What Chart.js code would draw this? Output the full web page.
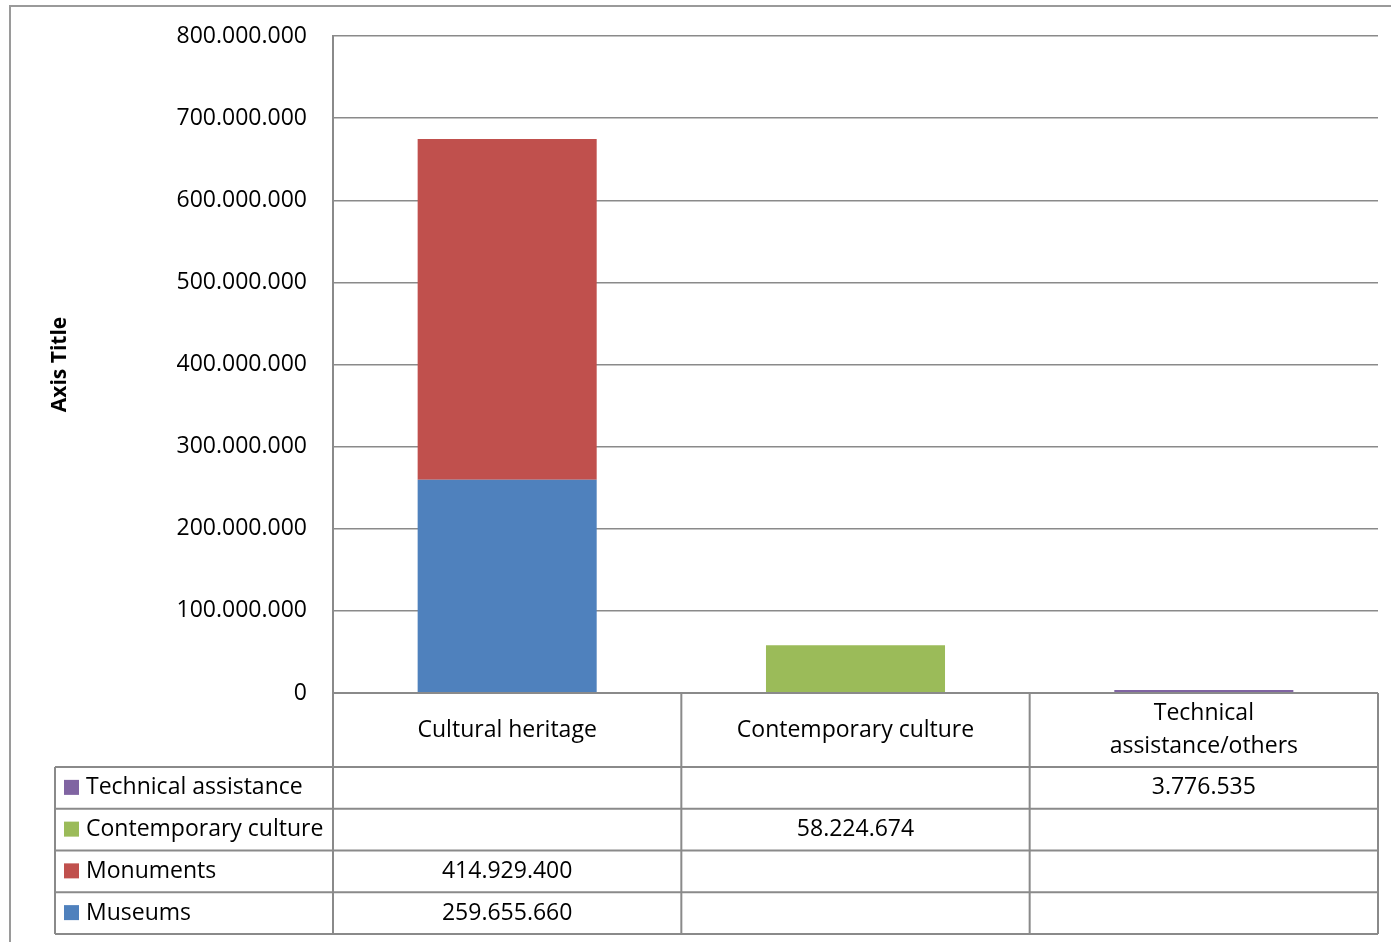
<!DOCTYPE html>
<html>
<head>
<meta charset="utf-8">
<title>Funding by area</title>
<script src="https://cdn.jsdelivr.net/npm/chart.js@4"></script>
<style>
    html, body { margin: 0; padding: 0; background: #ffffff; }
    #wrap { width: 1391px; height: 942px; }
</style>
</head>
<body>
<div id="wrap"><canvas id="myBarChart" width="1391" height="942"></canvas></div>
<script>
//data
const categories = ['Cultural heritage', 'Contemporary culture', 'Technical assistance/others']
const categoryLines = [['Cultural heritage'], ['Contemporary culture'], ['Technical', 'assistance/others']]

const museums = [259655660, null, null]
const monuments = [414929400, null, null]
const contemporary = [null, 58224674, null]
const technical = [null, null, 3776535]

const yTicks = [0, 100000000, 200000000, 300000000, 400000000, 500000000, 600000000, 700000000, 800000000]

//config color
const colorMuseums = '#4F81BD'
const colorMonuments = '#C0504D'
const colorContemporary = '#9BBB59'
const colorTechnical = '#8064A2'
const lineGray = '#8a8a8a'

const fontFamily = '"Open Sans", "Noto Sans", sans-serif'
const fontSize = 23

//1.234.567 style numbers
function formatNumber(value){
    return Math.round(value).toString().replace(/\B(?=(\d{3})+(?!\d))/g, '.')
}

//data table under the plot, like the one in the spreadsheet
const dataTablePlugin = {
    id: 'dataTable',
    afterDraw(chart){
        const ctx = chart.ctx
        const area = chart.chartArea
        const xScale = chart.scales.x
        const catW = (area.right - area.left) / categories.length
        const headerBottom = area.bottom + 74
        const rowH = 41.75
        const tableLeft = 55
        // rows are listed top to bottom in reverse dataset order
        const rows = chart.data.datasets.slice().reverse()
        const tableBottom = headerBottom + rows.length * rowH

        ctx.save()

        // outer frame of the chart object
        ctx.strokeStyle = '#9a9a9a'
        ctx.lineWidth = 2
        ctx.beginPath()
        ctx.moveTo(10, 942)
        ctx.lineTo(10, 6)
        ctx.lineTo(1391, 6)
        ctx.stroke()

        // table grid
        ctx.strokeStyle = lineGray
        ctx.lineWidth = 2
        ctx.beginPath()
        ctx.moveTo(area.left, area.bottom)
        ctx.lineTo(area.right, area.bottom)
        for (let r = 0; r <= rows.length; r++) {
            const y = headerBottom + r * rowH
            ctx.moveTo(tableLeft, y)
            ctx.lineTo(area.right, y)
        }
        ctx.moveTo(tableLeft, headerBottom)
        ctx.lineTo(tableLeft, tableBottom)
        for (let c = 0; c <= categories.length; c++) {
            const x = area.left + c * catW
            ctx.moveTo(x, area.bottom)
            ctx.lineTo(x, tableBottom)
        }
        ctx.stroke()

        ctx.fillStyle = '#000000'
        ctx.font = fontSize + 'px ' + fontFamily
        ctx.textBaseline = 'middle'

        // category headers
        ctx.textAlign = 'center'
        const headerMid = (area.bottom + headerBottom) / 2
        categoryLines.forEach((lines, i) => {
            const x = xScale.getPixelForValue(i)
            const lh = 33
            lines.forEach((line, k) => {
                const y = headerMid + (k - (lines.length - 1) / 2) * lh
                ctx.fillText(line, x, y)
            })
        })

        // series rows: legend key, name and values
        rows.forEach((ds, r) => {
            const yMid = headerBottom + r * rowH + rowH / 2
            ctx.fillStyle = ds.backgroundColor
            ctx.fillRect(64, yMid - 8, 15, 15)
            ctx.fillStyle = '#000000'
            ctx.textAlign = 'left'
            ctx.fillText(ds.label, 86, yMid)
            ctx.textAlign = 'center'
            ds.data.forEach((v, i) => {
                if (v !== null) {
                    ctx.fillText(formatNumber(v), xScale.getPixelForValue(i), yMid)
                }
            })
        })

        ctx.restore()
    }
}

//bar chart
const ctxBar = document.getElementById('myBarChart').getContext('2d')
const myBarChart = new Chart(ctxBar, {
    type: 'bar',
    data: {
        labels: categories,
        datasets: [
            { label: 'Museums', data: museums, backgroundColor: colorMuseums },
            { label: 'Monuments', data: monuments, backgroundColor: colorMonuments },
            { label: 'Contemporary culture', data: contemporary, backgroundColor: colorContemporary },
            { label: 'Technical assistance', data: technical, backgroundColor: colorTechnical }
        ]
    },
    options: {
        responsive: false,
        animation: false,
        categoryPercentage: 1,
        barPercentage: 0.514,
        layout: {
            padding: { top: 36, right: 13, bottom: 0, left: 0 }
        },
        plugins: {
            legend: { display: false },
            tooltip: { enabled: false }
        },
        scales: {
            x: {
                stacked: true,
                grid: { display: false },
                border: { display: false },
                ticks: { display: false },
                afterFit(scale){ scale.height = 249 }
            },
            y: {
                stacked: true,
                min: 0,
                max: 800000000,
                afterBuildTicks(scale){ scale.ticks = yTicks.map(v => ({ value: v })) },
                afterFit(scale){
                    scale.width = 333
                    // the tick gap should not push the plot down
                    scale.paddingTop = 0
                    scale.paddingBottom = 0
                },
                grid: {
                    color: lineGray,
                    lineWidth: 1.5,
                    drawTicks: false
                },
                border: { color: lineGray, width: 2 },
                ticks: {
                    padding: 26,
                    color: '#000000',
                    font: { family: fontFamily, size: fontSize },
                    callback: value => formatNumber(value)
                },
                title: {
                    display: true,
                    text: 'Axis Title',
                    color: '#000000',
                    font: { family: fontFamily, size: 21, weight: 'bold' },
                    padding: { top: 47, bottom: 0 }
                }
            }
        }
    },
    plugins: [dataTablePlugin]
})
</script>
</body>
</html>
